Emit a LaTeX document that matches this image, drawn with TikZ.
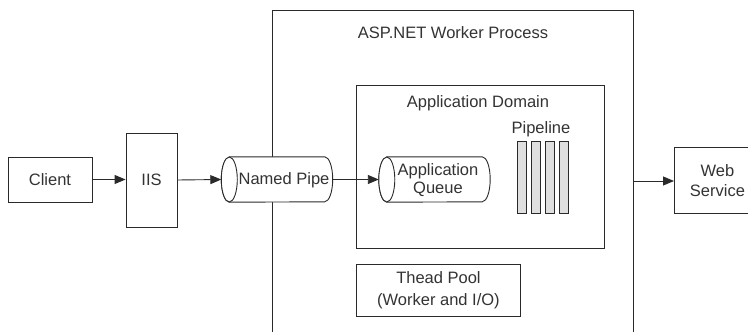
\documentclass[tikz,border=0pt]{standalone}
\usepackage{fontspec}
\setmainfont{Liberation Sans}
\usetikzlibrary{calc,arrows.meta}
\definecolor{lncol}{HTML}{2A2A2A}
\definecolor{txcol}{HTML}{333333}
\tikzset{
  every node/.style={font=\fontsize{16.5}{20}\selectfont, text=txcol},
  box/.style={draw=lncol, line width=0.9pt, fill=white, inner sep=0pt, align=center},
  pipebody/.style={rectangle, minimum width=111pt, minimum height=45pt, inner sep=0pt},
  cyl/.style={draw=lncol, line width=0.9pt, fill=white},
  bar/.style={draw=lncol, line width=0.8pt, fill=gray!25, minimum width=9pt, minimum height=72pt, inner sep=0pt, anchor=north west},
  arr/.style={draw=lncol, line width=0.9pt, -{Triangle[length=11pt,width=9pt]}},
  lbl/.style={inner sep=0pt}
}
\newcommand{\drawcyl}[1]{%
  \draw[cyl] ($(#1.north west)+(8,0)$) -- ($(#1.north east)+(-8,0)$)
    arc[start angle=90, end angle=-90, x radius=8, y radius=22.5]
    -- ($(#1.south west)+(8,0)$)
    arc[start angle=270, end angle=90, x radius=8, y radius=22.5] -- cycle;
  \draw[cyl] ($(#1.west)+(8,0)$) ellipse[x radius=8, y radius=22.5];
}
\begin{document}
\begin{tikzpicture}[x=1pt,y=1pt]
\useasboundingbox (0,0) rectangle (748,-332);
\fill[white] (0,0) rectangle (748,-332);
\clip (0,0) rectangle (748,-332);
% worker process
\node[box, minimum width=361pt, minimum height=340pt, anchor=north west] (worker) at (272,-10) {};
\node[lbl] (workert) at (453,-33) {ASP.NET Worker Process};
% application domain
\node[box, minimum width=248pt, minimum height=163pt, anchor=north west] (domain) at (356,-85) {};
\node[lbl] (domaint) at (478,-103) {Application Domain};
% pipeline
\node[lbl] (pipet) at (541,-129) {Pipeline};
\node[bar] (b1) at (517,-141) {};
\node[bar] (b2) at (531,-141) {};
\node[bar] (b3) at (545,-141) {};
\node[bar] (b4) at (559,-141) {};
% thread pool
\node[box, minimum width=164pt, minimum height=52pt, anchor=north west, font=\fontsize{16.5}{22}\selectfont] (pool) at (356,-264) {Thead Pool\\(Worker and I/O)};
% left chain
\node[box, minimum width=84pt, minimum height=45pt] (client) at (50,-179.5) {Client};
\node[box, minimum width=51pt, minimum height=94pt] (iis) at (151.5,-180) {IIS};
\node[pipebody] (npipe) at (277,-179.5) {};
\drawcyl{npipe}
\node[lbl] (npipet) at (284,-180) {Named Pipe};
\node[pipebody] (queue) at (434.5,-179.5) {};
\drawcyl{queue}
\node[lbl, align=center, font=\fontsize{16.5}{18.5}\selectfont] (queuet) at (438,-180) {Application\\Queue};
% web service
\node[box, minimum width=86pt, minimum height=66pt, anchor=north west, font=\fontsize{16.5}{20}\selectfont] (web) at (674,-147) {Web\\Service};
\coordinate (wout) at (633,-181);
% arrows
\draw[arr] (client.east) -- (iis.west |- client.east);
\draw[arr] (iis.east) -- (npipe.west);
\draw[arr] (npipe.east) -- (queue.west);
\draw[arr] (wout) -- (web.west |- wout);
\end{tikzpicture}
\end{document}
